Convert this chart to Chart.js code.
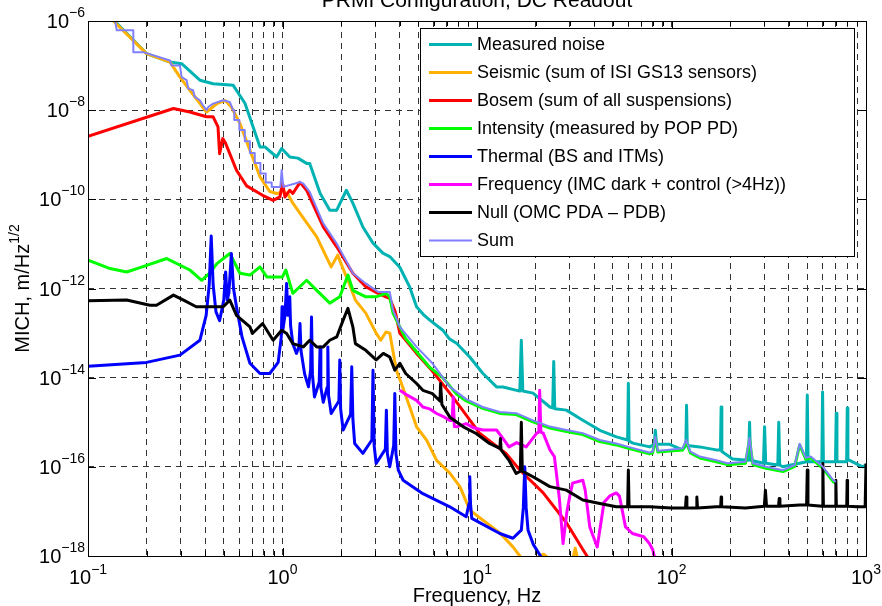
<!DOCTYPE html>
<html><head><meta charset="utf-8">
<script src="https://cdn.jsdelivr.net/npm/chart.js@4.4.1/dist/chart.umd.min.js"></script>
<style>html,body{margin:0;padding:0;background:#fff;overflow:hidden}</style>
</head><body>
<canvas id="c" width="882" height="606"></canvas>
<script>
// ---------- DATA (frequency Hz, amplitude m/Hz^1/2) ----------
const titleText = 'PRMI Configuration, DC Readout';
const xTitle = 'Frequency, Hz';
const yTitleMain = 'MICH, m/Hz';
const yTitleSup = '1/2';
const xDecades = [0.1, 1, 10, 100, 1000];
const xTickExps = ['\u22121', '0', '1', '2', '3'];
const yMajor = [1e-18, 1e-16, 1e-14, 1e-12, 1e-10, 1e-8, 1e-6];
const yTickExps = ['\u221218', '\u221216', '\u221214', '\u221212', '\u221210', '\u22128', '\u22126'];
const minorMults = [2, 3, 4, 5, 6, 7, 8, 9];

const seriesLabels = ['Measured noise', 'Seismic (sum of ISI GS13 sensors)', 'Bosem (sum of all suspensions)',
  'Intensity (measured by POP PD)', 'Thermal (BS and ITMs)', 'Frequency (IMC dark + control (>4Hz))',
  'Null (OMC PDA \u2013 PDB)', 'Sum'];

const measured = [[0.125,1.5e-6],[0.2,1.86e-7],[0.264,1.2e-7],[0.303,1.1e-7],[0.376,4.7e-8],[0.44,3.9e-8],[0.558,3.6e-8],[0.641,1.43e-8],[0.766,1.5e-9],[0.812,1.5e-9],[0.933,8.9e-10],[0.99,1.38e-9],[1.09,8.9e-10],[1.2,8.4e-10],[1.33,6.4e-10],[1.38,6.4e-10],[1.56,1.37e-10],[1.75,5.7e-11],[1.9,5.7e-11],[2.13,1.6e-10],[2.3,8.2e-11],[2.59,2.4e-11],[2.92,1.04e-11],[3.28,6.2e-12],[3.56,5.2e-12],[4.01,3.0e-12],[4.51,1.07e-12],[4.89,3.9e-13],[5.3,2.6e-13],[5.72,1.95e-13],[6.67,1.16e-13],[7.2,7.5e-14],[7.85,5.9e-14],[9.18,2.9e-14],[10.7,1.26e-14],[12.6,6.2e-15],[13.6,6.2e-15],[16.6,5.0e-15],[16.9,6.9e-14],[17.2,5.0e-15],[19.4,4.5e-15],[23.7,2.2e-15],[24.5,2.1e-15],[24.8,2.3e-14],[25.1,2.0e-15],[28.8,1.87e-15],[35,1.11e-15],[42.8,6.6e-16],[52.1,4.7e-16],[59.5,4.0e-16],[60,7.5e-15],[60.5,3.8e-16],[63.2,3.4e-16],[77.3,2.8e-16],[81.5,3.2e-16],[82.6,6.6e-16],[83.8,3.2e-16],[97.9,3.2e-16],[114,2.4e-16],[118.5,3.0e-16],[119.5,2.4e-15],[120.5,3.0e-16],[139.6,2.8e-16],[170,2.4e-16],[178.5,2.4e-16],[180,2.2e-15],[181.5,2.2e-16],[206,1.5e-16],[249,1.4e-16],[252,1.0e-15],[255,1.4e-16],[297,1.2e-16],[301,7.9e-16],[305,1.2e-16],[352,1.1e-16],[356,1.0e-15],[360,1.1e-16],[373,1.0e-16],[456,1.2e-16],[494,1.3e-16],[499,4.1e-15],[504,1.3e-16],[593,1.3e-16],[598,4.8e-15],[604,1.3e-16],[697,1.3e-16],[703,1.6e-15],[709,1.3e-16],[795,1.3e-16],[801,2.1e-15],[807,1.4e-16],[824,1.4e-16],[961,1.0e-16],[1000,1.1e-16]];

const seismic = [[0.125,1.4e-6],[0.2,1.86e-7],[0.264,1.2e-7],[0.297,5.5e-8],[0.334,2.8e-8],[0.407,9.1e-9],[0.46,1.4e-8],[0.507,1.65e-8],[0.546,1.18e-8],[0.604,5.0e-9],[0.68,1.27e-9],[0.766,3.2e-10],[0.86,1.5e-10],[0.933,1.35e-10],[0.98,1.4e-10],[1.0,2.3e-10],[1.02,1.4e-10],[1.06,1.37e-10],[1.13,8.2e-11],[1.27,4.0e-11],[1.5,1.44e-11],[1.68,5.1e-12],[1.78,3.05e-12],[1.92,5.6e-12],[2.03,3.05e-12],[2.2,1.32e-12],[2.37,5.5e-13],[2.68,2.8e-13],[3.03,1.0e-13],[3.2,6.9e-14],[3.4,1.06e-13],[3.56,1.0e-13],[3.85,1.47e-14],[4.15,6.2e-15],[4.51,2.2e-15],[4.89,7.9e-16],[5.5,4.0e-16],[6.2,1.4e-16],[7.25,7.2e-17],[8.17,3.6e-17],[9.18,1.07e-17],[10.7,6.4e-18],[13.1,3.3e-18],[15.3,1.6e-18],[16.6,1.0e-18],[18,7e-19],[22,1.1e-18],[24,8e-19],[31,8e-19],[32,1.5e-18],[33,8e-19]];

const bosem = [[0.1,2.6e-9],[0.275,1.09e-8],[0.334,9.1e-9],[0.407,7.1e-9],[0.44,7.1e-9],[0.466,4.2e-9],[0.475,1.05e-9],[0.493,2.3e-9],[0.51,1.8e-9],[0.58,4.5e-10],[0.654,2.0e-10],[0.79,1.23e-10],[0.895,9.5e-11],[0.97,1.13e-10],[1.0,2.3e-10],[1.03,1.13e-10],[1.09,1.6e-10],[1.13,1.35e-10],[1.23,2.4e-10],[1.33,1.6e-10],[1.62,2.4e-11],[1.9,8.6e-12],[2.3,2.2e-12],[2.68,1.1e-12],[3.1,7.8e-13],[3.4,6.5e-13],[3.56,6.0e-13],[3.8,3.0e-13],[4.01,1.0e-13],[4.89,3.5e-14],[5.85,1.47e-14],[7.5,3.7e-15],[10.3,5.7e-16],[14.1,2.0e-16],[16.6,8.5e-17],[21.9,2.6e-17],[28.9,5.5e-18],[35,1.4e-18],[38,8e-19]];

const intensity = [[0.1,4.3e-12],[0.13,2.8e-12],[0.158,2.35e-12],[0.19,3.05e-12],[0.254,4.7e-12],[0.334,2.6e-12],[0.384,1.53e-12],[0.422,2.2e-12],[0.46,3.6e-12],[0.536,6.1e-12],[0.604,2.2e-12],[0.68,2.0e-12],[0.766,3.05e-12],[0.83,1.82e-12],[1.0,1.82e-12],[1.04,2.6e-12],[1.13,7.8e-13],[1.33,1.53e-12],[1.5,9.1e-13],[1.75,4.7e-13],[1.97,6.5e-13],[2.17,2.0e-12],[2.3,9.1e-13],[2.68,6.5e-13],[3.03,6.5e-13],[3.4,7.8e-13],[3.56,6.5e-13],[3.7,2.8e-13],[4.3,7.5e-14],[4.89,3.8e-14],[5.72,1.7e-14],[6.67,1.0e-14],[7.85,4.3e-15],[8.8,3.0e-15],[10.7,2.05e-15],[13.1,1.58e-15],[15.9,1.49e-15],[19.4,1.02e-15],[23.7,7.4e-16],[28.8,6.2e-16],[35,5.3e-16],[42.8,3.7e-16],[52,3.1e-16],[60,2.6e-16],[77,1.95e-16],[80,2.05e-16],[82.6,4.4e-16],[85,2.15e-16],[95,2.25e-16],[114,2.4e-16],[119,3.7e-16],[125,2.05e-16],[140,1.58e-16],[170,1.3e-16],[194,1.12e-16],[240,1.2e-16],[252,4.2e-16],[262,1.12e-16],[306,9.3e-17],[375,7.8e-17],[430,1.02e-16],[456,3.1e-16],[490,1.49e-16],[520,1.58e-16],[600,9.3e-17],[680,4.6e-17],[700,4.3e-17]];

const thermal = [[0.1,1.8e-14],[0.2,2.2e-14],[0.297,3.2e-14],[0.376,6.9e-14],[0.405,2.5e-13],[0.42,1.2e-12],[0.43,1.5e-11],[0.44,1.2e-12],[0.455,3.0e-13],[0.475,1.9e-13],[0.499,5.5e-13],[0.51,2.35e-12],[0.52,5.5e-13],[0.53,8e-13],[0.546,6.1e-12],[0.56,1.0e-12],[0.58,3.9e-13],[0.62,8e-14],[0.68,2.1e-14],[0.766,1.24e-14],[0.86,1.24e-14],[0.95,2.2e-14],[0.985,8e-14],[0.995,3.9e-13],[1.005,1.2e-13],[1.03,2.5e-13],[1.05,1.3e-12],[1.065,2.5e-13],[1.08,2.5e-13],[1.09,6.5e-13],[1.1,1.5e-13],[1.13,5.8e-14],[1.18,3.5e-14],[1.215,5e-14],[1.23,1.64e-13],[1.245,4e-14],[1.3,1.2e-14],[1.36,6.2e-15],[1.395,1.5e-14],[1.41,2.3e-13],[1.425,1.2e-14],[1.46,3.7e-15],[1.545,8e-15],[1.56,4.9e-14],[1.575,6e-15],[1.62,2.8e-15],[1.695,6e-15],[1.71,4.9e-14],[1.725,4e-15],[1.78,1.57e-15],[1.95,3e-15],[1.97,2.5e-14],[1.99,2e-15],[2.05,6.7e-16],[2.24,1.5e-15],[2.27,1.75e-14],[2.3,1.2e-15],[2.35,3.35e-16],[2.59,2.0e-16],[2.88,4e-16],[2.92,1.47e-14],[2.96,3e-16],[3.03,1.19e-16],[3.38,2.5e-16],[3.42,1.87e-15],[3.46,2e-16],[3.56,1.0e-16],[3.73,3e-16],[3.78,4.4e-15],[3.83,2e-16],[3.94,8.4e-17],[4.17,5.0e-17],[5.27,2.5e-17],[7.25,1.27e-17],[8.8,7.6e-18],[9.1,1.5e-17],[9.18,6.0e-17],[9.26,1.5e-17],[9.4,7.0e-18],[13.1,3.2e-18],[15.3,2.5e-18],[16.9,3.8e-18],[17.3,1.2e-17],[17.6,1.0e-16],[17.9,1.2e-17],[18.3,3.8e-18],[19.5,1.8e-18],[21.9,8e-19]];

const frequency = [[4.01,5.2e-15],[4.4,4.0e-15],[4.89,3.1e-15],[5.27,2.2e-15],[5.7,2.0e-15],[6.2,1.57e-15],[6.8,1.3e-15],[7.25,1.1e-15],[7.45,1.1e-15],[7.55,3.7e-15],[7.65,8e-16],[7.85,7.9e-16],[8.8,9.3e-16],[9.6,7.5e-16],[10.7,6.7e-16],[12.6,6.7e-16],[13.5,4.5e-16],[14.6,2.8e-16],[16,3.5e-16],[17.9,2.8e-16],[20.3,5.7e-16],[20.8,6e-16],[21,5.2e-15],[21.3,6e-16],[21.9,5.7e-16],[23.7,2.4e-16],[25,1.7e-16],[26.5,2e-17],[27.7,1.9e-18],[29,1.0e-17],[30,2.2e-17],[31,4.3e-17],[35,5.0e-17],[36,3.0e-17],[38,4.5e-18],[41.5,1.6e-18],[45,1.6e-17],[48,2.2e-17],[52,2.6e-17],[54,2.2e-17],[58,4.5e-18],[63,3.2e-18],[72,2.7e-18],[77,1.9e-18],[80,1.4e-18],[82,9e-19]];

const nullCh = [[0.1,5.3e-13],[0.158,5.5e-13],[0.208,4.2e-13],[0.225,4.2e-13],[0.275,7.1e-13],[0.31,5.5e-13],[0.36,3.9e-13],[0.496,3.9e-13],[0.536,5.5e-13],[0.58,2.5e-13],[0.68,1.38e-13],[0.7,9.8e-14],[0.79,1.64e-13],[0.895,6.9e-14],[0.99,1.16e-13],[1.05,9.8e-14],[1.13,5.8e-14],[1.28,4.9e-14],[1.38,6.9e-14],[1.5,4.9e-14],[1.62,4.9e-14],[1.75,6.9e-14],[1.9,8.2e-14],[2.05,1.95e-13],[2.17,3.6e-13],[2.3,1.38e-13],[2.37,5.8e-14],[2.68,4.1e-14],[3.03,2.5e-14],[3.3,3.5e-14],[3.56,2.9e-14],[3.78,1.47e-14],[4.01,2.1e-14],[4.3,1.24e-14],[4.89,7.4e-15],[5.27,5.2e-15],[5.9,4.4e-15],[6.45,3.0e-15],[6.5,7.4e-15],[6.6,2.5e-15],[7.25,1.3e-15],[8.5,7.9e-16],[9.9,5.6e-16],[11.6,3.35e-16],[13.1,2.6e-16],[13.2,4.3e-16],[13.3,2.4e-16],[14.6,1.4e-16],[15.9,7.1e-17],[16.7,8e-17],[16.9,1.0e-15],[17.1,8e-17],[19.4,6.0e-17],[23.7,3.6e-17],[28.8,3.0e-17],[35,1.8e-17],[42.8,1.5e-17],[52,1.27e-17],[59.5,1.27e-17],[60,8.5e-17],[60.5,1.27e-17],[77,1.27e-17],[100,1.2e-17],[118,1.2e-17],[119,2.1e-17],[120,1.2e-17],[134,1.2e-17],[135,2.1e-17],[136,1.2e-17],[170,1.27e-17],[179,1.27e-17],[180,2.1e-17],[181,1.27e-17],[240,1.2e-17],[300,1.3e-17],[304,3.0e-17],[308,1.3e-17],[355,1.3e-17],[358,1.96e-17],[361,1.3e-17],[456,1.4e-17],[495,1.4e-17],[499,8.5e-17],[503,1.4e-17],[596,1.3e-17],[600,1.19e-16],[604,1.3e-17],[697,1.3e-17],[700,5.0e-17],[704,1.3e-17],[796,1.3e-17],[800,5.0e-17],[804,1.3e-17],[900,1.27e-17],[990,1.27e-17],[1000,1.19e-16]];

const sum = [[0.13,1.4e-6],[0.138,1.0e-6],[0.1405,6.2e-7],[0.171,6.2e-7],[0.171,2.0e-7],[0.192,2.0e-7],[0.264,1.3e-7],[0.269,1.0e-7],[0.297,1.0e-7],[0.303,5.5e-8],[0.3216,4.7e-8],[0.3275,3.05e-8],[0.347,2.8e-8],[0.354,1.98e-8],[0.376,1.67e-8],[0.39,1.29e-8],[0.407,1.0e-8],[0.415,1.18e-8],[0.44,1.4e-8],[0.495,1.67e-8],[0.536,1.53e-8],[0.557,1.0e-8],[0.565,1.0e-8],[0.565,6.0e-9],[0.6,6.0e-9],[0.6,3.6e-9],[0.64,3.6e-9],[0.64,2.0e-9],[0.68,2.0e-9],[0.68,1.1e-9],[0.72,1.1e-9],[0.72,6.5e-10],[0.77,6.5e-10],[0.77,3.8e-10],[0.82,3.8e-10],[0.82,2.4e-10],[0.88,2.4e-10],[0.88,1.9e-10],[0.975,1.9e-10],[0.99,4.5e-10],[1.01,1.9e-10],[1.16,2.26e-10],[1.23,2.45e-10],[1.28,2.26e-10],[1.38,1.47e-10],[1.62,2.9e-11],[1.9,1.02e-11],[2.3,2.2e-12],[2.68,1.3e-12],[3.1,8.4e-13],[3.56,8.4e-13],[3.7,3.3e-13],[4.01,1.38e-13],[4.89,4.9e-14],[5.9,2.1e-14],[7.25,6.2e-15],[8.8,3.3e-15],[10.7,2.2e-15],[13.1,1.7e-15],[15.9,1.6e-15],[19.4,1.1e-15],[23.7,8.0e-16],[28.8,6.7e-16],[35,5.7e-16],[42.8,4.0e-16],[52,3.35e-16],[60,2.8e-16],[77,2.1e-16],[80,2.2e-16],[82.6,4.7e-16],[85,2.3e-16],[95,2.4e-16],[114,2.6e-16],[119,4.0e-16],[125,2.2e-16],[140,1.7e-16],[170,1.4e-16],[194,1.2e-16],[240,1.3e-16],[252,4.5e-16],[262,1.2e-16],[306,1.0e-16],[375,8.4e-17],[430,1.1e-16],[456,3.3e-16],[490,1.6e-16],[520,1.7e-16],[600,1.0e-16],[680,5.0e-17],[700,4.6e-17]];

// ---------- STYLE ----------
const seriesData = [measured, seismic, bosem, intensity, thermal, frequency, nullCh, sum];
const seriesColors = ['#00B2B2', '#FFB000', '#FF0000', '#00FF00', '#0000FF', '#FF00FF', '#000000', '#8080FF'];
const seriesWidths = [3, 3, 3, 3, 3, 3, 3, 2];
const FONT = '"Liberation Sans", Arial, Helvetica, sans-serif';

const xTicks = [];
xDecades.forEach((d, i) => { xTicks.push(d); if (i < xDecades.length - 1) minorMults.forEach(m => xTicks.push(d * m)); });

const datasets = seriesData.map((arr, i) => ({
  label: seriesLabels[i],
  data: arr.map(p => ({ x: p[0], y: p[1] })),
  borderColor: seriesColors[i],
  backgroundColor: seriesColors[i],
  borderWidth: seriesWidths[i],
  pointRadius: 0,
  tension: 0,
  fill: false,
  order: seriesData.length - i
}));

function drawSup(ctx, base, exp, x, y, align, bSize, eSize, rise) {
  ctx.font = bSize + 'px ' + FONT; const wb = ctx.measureText(base).width;
  ctx.font = eSize + 'px ' + FONT; const we = ctx.measureText(exp).width;
  const total = wb + we;
  const left = align === 'center' ? x - total / 2 : (align === 'right' ? x - total : x);
  ctx.textAlign = 'left'; ctx.textBaseline = 'alphabetic';
  ctx.font = bSize + 'px ' + FONT; ctx.fillText(base, left, y);
  ctx.font = eSize + 'px ' + FONT; ctx.fillText(exp, left + wb, y - rise);
}

const decor = {
  id: 'decor',
  afterDraw(chart) {
    const ctx = chart.ctx, a = chart.chartArea;
    const xs = chart.scales.x, ys = chart.scales.y;
    ctx.save();
    ctx.fillStyle = '#000'; ctx.strokeStyle = '#000'; ctx.lineWidth = 1;
    ctx.beginPath();
    xTicks.forEach(v => {
      const px = Math.round(xs.getPixelForValue(v)) + 0.5;
      const major = xDecades.includes(v);
      const L = major ? 8 : 5;
      ctx.moveTo(px, a.bottom); ctx.lineTo(px, a.bottom - L);
      ctx.moveTo(px, a.top); ctx.lineTo(px, a.top + L);
    });
    yMajor.forEach(v => {
      const py = Math.round(ys.getPixelForValue(v)) + 0.5;
      ctx.moveTo(a.left, py); ctx.lineTo(a.left + 8, py);
      ctx.moveTo(a.right, py); ctx.lineTo(a.right - 8, py);
    });
    ctx.stroke();
    ctx.strokeRect(Math.round(a.left) + 0.5, Math.round(a.top) + 0.5, Math.round(a.right - a.left), Math.round(a.bottom - a.top));
    xDecades.forEach((v, i) => {
      drawSup(ctx, '10', xTickExps[i], xs.getPixelForValue(v), 584, 'center', 20, 14, 10);
    });
    yMajor.forEach((v, i) => {
      const py = ys.getPixelForValue(v);
      drawSup(ctx, '10', yTickExps[i], a.left - 3, py + 7, 'right', 20, 14, 11);
    });
    ctx.textAlign = 'center'; ctx.textBaseline = 'alphabetic';
    ctx.font = '21px ' + FONT;
    ctx.fillText(titleText, (a.left + a.right) / 2, 7);
    ctx.font = '20px ' + FONT;
    ctx.fillText(xTitle, (a.left + a.right) / 2, 602);
    ctx.save();
    ctx.translate(29, (a.top + a.bottom) / 2);
    ctx.rotate(-Math.PI / 2);
    drawSup(ctx, yTitleMain, yTitleSup, 0, 0, 'center', 20, 14, 10);
    ctx.restore();
    const lx = 420.5, ly = 28.5, lw = 434, lh = 228;
    ctx.fillStyle = '#fff'; ctx.fillRect(lx, ly, lw, lh);
    ctx.strokeStyle = '#000'; ctx.lineWidth = 1; ctx.strokeRect(lx, ly, lw, lh);
    ctx.font = '18px ' + FONT; ctx.textAlign = 'left'; ctx.textBaseline = 'middle';
    seriesLabels.forEach((lab, i) => {
      const yy = 44.5 + i * 28;
      ctx.strokeStyle = seriesColors[i]; ctx.lineWidth = seriesWidths[i];
      ctx.beginPath(); ctx.moveTo(429, yy); ctx.lineTo(472, yy); ctx.stroke();
      ctx.fillStyle = '#000'; ctx.fillText(lab, 477, yy + 1);
    });
    ctx.restore();
  }
};

new Chart(document.getElementById('c').getContext('2d'), {
  type: 'line',
  data: { datasets },
  options: {
    responsive: false, animation: false, devicePixelRatio: 1,
    layout: { padding: { left: 88, right: 16, top: 21, bottom: 50 } },
    plugins: { legend: { display: false }, tooltip: { enabled: false }, title: { display: false } },
    elements: { point: { radius: 0 }, line: { borderJoinStyle: 'round', borderCapStyle: 'butt' } },
    scales: {
      x: {
        type: 'logarithmic', min: 0.1, max: 1000,
        afterBuildTicks: s => { s.ticks = xTicks.map(v => ({ value: v })); },
        ticks: { display: false },
        grid: { color: '#333', lineWidth: 1, drawTicks: false },
        border: { display: false, dash: [6, 5] }
      },
      y: {
        type: 'logarithmic', min: 1e-18, max: 1e-6,
        afterBuildTicks: s => { s.ticks = yMajor.map(v => ({ value: v })); },
        ticks: { display: false },
        grid: { color: '#333', lineWidth: 1, drawTicks: false },
        border: { display: false, dash: [6, 5] }
      }
    }
  },
  plugins: [decor]
});
</script>
</body></html>
